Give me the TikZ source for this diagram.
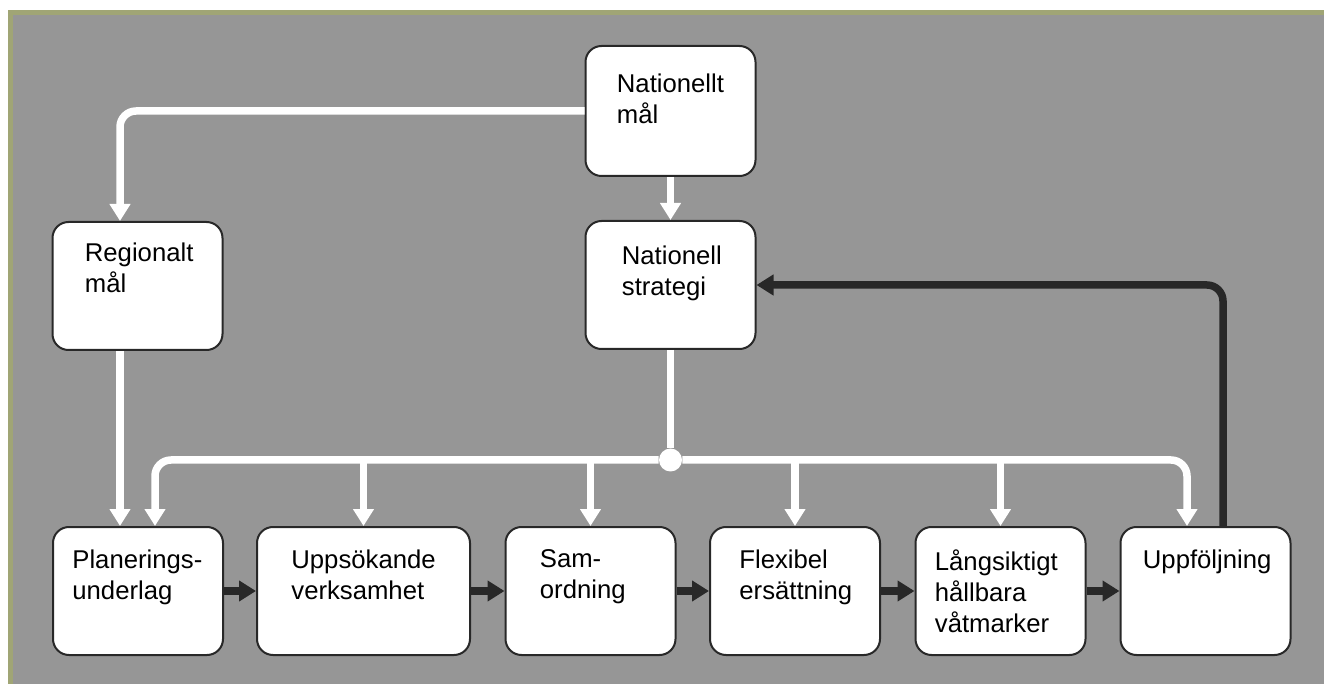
\documentclass[tikz,border=0pt]{standalone}
\usepackage{fontspec}
\setmainfont{Liberation Sans}
\usetikzlibrary{arrows.meta}
\usetikzlibrary{positioning}
\definecolor{bggray}{RGB}{150, 150, 150}
\definecolor{olive}{RGB}{160, 165, 117}
\definecolor{edge}{RGB}{40, 40, 40}
\tikzset{box/.style = {draw=edge, line width=1pt, fill=white, rounded corners=8pt,
                       minimum width=85pt, minimum height=64pt, inner sep=0pt},
         txt/.style = {anchor=north west, inner sep=0pt, align=left,
                       font=\fontsize{12.85}{15.6}\selectfont},
         wline/.style = {white, line width=3.75pt},
         warr/.style = {wline, -{Triangle[width=10pt, length=8.5pt]}},
         barr/.style = {edge, line width=3.75pt, -{Triangle[width=10pt, length=8.5pt]}},
         hubdot/.style = {circle, fill=white, minimum size=11.5pt, inner sep=0pt}}

\begin{document}
\begin{tikzpicture}[x=0.5pt, y=-0.5pt]
    \useasboundingbox (0, 0) rectangle (1324, 684);
    \fill [white] (0, 0) rectangle (1324, 684);
    \fill [olive] (8, 10) rectangle (1324, 684);
    \fill [bggray] (13, 15) rectangle (1324, 684);

    % boxes
    \node [box, minimum height=65pt] (natm) at (670.5, 111) {};
    \node [box] (nats) at (670.5, 285) {};
    \node [box] (reg) at (137.5, 286) {};
    \node [box] (plan) at (138, 591) {};
    \node [box, minimum width=106.5pt] (upps) at (363.5, 591) {};
    \node [box] (sam) at (590.5, 591) {};
    \node [box] (flex) at (795, 591) {};
    \node [box] (lang) at (1000.5, 591) {};
    \node [box] (uppf) at (1205.5, 591) {};

    \node [txt] (natmtxt) at ([xshift=16pt, yshift=-14pt] natm.north west) {Nationellt\\mål};
    \node [txt] (natstxt) at ([xshift=18.5pt, yshift=-12.5pt] nats.north west) {Nationell\\strategi};
    \node [txt] (regtxt) at ([xshift=16.5pt, yshift=-10.5pt] reg.north west) {Regionalt\\mål};
    \node [txt] (plantxt) at ([xshift=10pt, yshift=-11.5pt] plan.north west) {Planerings-\\underlag};
    \node [txt] (uppstxt) at ([xshift=17.5pt, yshift=-11.5pt] upps.north west) {Uppsökande\\verksamhet};
    \node [txt] (samtxt) at ([xshift=17.5pt, yshift=-11.5pt] sam.north west) {Sam-\\ordning};
    \node [txt] (flextxt) at ([xshift=15pt, yshift=-11.5pt] flex.north west) {Flexibel\\ersättning};
    \node [txt] (langtxt) at ([xshift=10pt, yshift=-11.5pt] lang.north west) {Långsiktigt\\hållbara\\våtmarker};
    \node [txt] (uppftxt) at ([xshift=11.5pt, yshift=-11.5pt] uppf.north west) {Uppföljning};

    \node [hubdot] (hub) at (670.5, 460) {};

    % white arrows
    \draw [warr, rounded corners=8pt] (natm.west) -| ([xshift=-8.75pt] reg.north);
    \draw [warr] (natm.south) -- (nats.north);
    \draw [warr] ([xshift=-8.75pt] reg.south) -- ([xshift=-9pt] plan.north);
    \draw [wline] (nats.south) -- (hub);
    \draw [warr, rounded corners=8pt] (hub) -| ([xshift=8.5pt] plan.north);
    \draw [warr, rounded corners=8pt] (hub) -| ([xshift=-9.25pt] uppf.north);
    \foreach \b in {upps, sam, flex, lang}
      \draw [warr] (\b.north |- hub) -- (\b.north);

    % black arrows
    \draw [barr] (plan) -- (upps);
    \draw [barr] (upps) -- (sam);
    \draw [barr] (sam) -- (flex);
    \draw [barr] (flex) -- (lang);
    \draw [barr] (lang) -- (uppf);
    \draw [barr, rounded corners=8pt] ([xshift=8.75pt] uppf.north) |- (nats.east);
\end{tikzpicture}
\end{document}
